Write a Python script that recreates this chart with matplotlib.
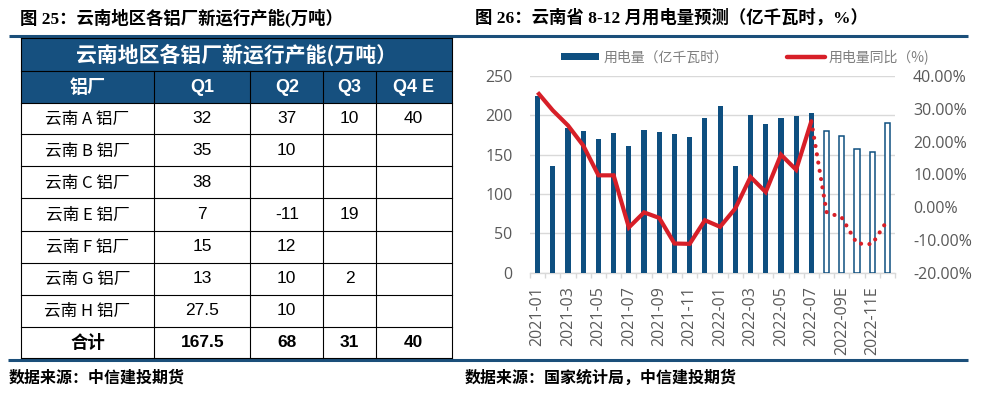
import matplotlib
matplotlib.use("Agg")
import matplotlib.pyplot as plt
from matplotlib.patches import Rectangle
from matplotlib.lines import Line2D
from matplotlib.ticker import FuncFormatter, FixedLocator
import numpy as np

plt.rcParams['font.family'] = ['Noto Sans CJK SC', 'DejaVu Sans']

# ---------------- data: table ----------------
table_title = "云南地区各铝厂新运行产能(万吨）"
col_headers = ["铝厂", "Q1", "Q2", "Q3", "Q4 E"]
plants = ["云南 A 铝厂", "云南 B 铝厂", "云南 C 铝厂", "云南 E 铝厂",
          "云南 F 铝厂", "云南 G 铝厂", "云南 H 铝厂"]
q1 = ["32", "35", "38", "7", "15", "13", "27.5"]
q2 = ["37", "10", "", "-11", "12", "10", "10"]
q3 = ["10", "", "", "19", "", "2", ""]
q4 = ["40", "", "", "", "", "", ""]
total_label = "合计"
totals = ["167.5", "68", "31", "40"]

# ---------------- data: chart ----------------
months = ["2021-01", "2021-02", "2021-03", "2021-04", "2021-05", "2021-06",
          "2021-07", "2021-08", "2021-09", "2021-10", "2021-11", "2021-12",
          "2022-01", "2022-02", "2022-03", "2022-04", "2022-05", "2022-06",
          "2022-07", "2022-08E", "2022-09E", "2022-10E", "2022-11E", "2022-12E"]
usage = [225, 136, 184, 180, 170, 178, 161, 182, 179, 176, 173, 197,
         212, 135, 200, 189, 197, 199, 203, 180, 174, 157, 154, 190]
yoy = [35.0, 29.5, 24.9, 18.8, 9.7, 9.7, -6.2, -1.6, -3.3, -11.1, -11.2, -4.0,
       -6.0, -0.4, 9.2, 4.6, 16.0, 11.4, 26.2, -1.5, -3.2, -11.1, -11.3, -4.0]
n_actual = 19  # through 2022-07

BLUE = '#0E4F80'
HDR = '#16507F'
RED = '#D71F28'
GRID = '#D9D9D9'
TXT = '#595959'

W, H = 987, 394
fig = plt.figure(figsize=(W / 100, H / 100), dpi=100)
bg = fig.add_axes([0, 0, 1, 1])
bg.set_xlim(0, W)
bg.set_ylim(H, 0)
bg.axis('off')

title_font = ['Liberation Serif', 'Noto Sans CJK SC']

# titles
bg.text(20, 18, "图 25：云南地区各铝厂新运行产能(万吨）", family=title_font,
        fontsize=12.5, fontweight='bold', ha='left', va='center', color='black')
bg.text(475, 18, "图 26：云南省 8-12 月用电量预测（亿千瓦时，%）", family=title_font,
        fontsize=12.5, fontweight='bold', ha='left', va='center', color='black')

# rules
bg.plot([9, 968], [35.8, 35.8], color='#1B4F7A', lw=2.2, solid_capstyle='butt')
bg.plot([8, 968], [360.3, 360.3], color='#1B4F7A', lw=2.2, solid_capstyle='butt')

# sources
bg.text(9, 378, "数据来源：中信建投期货", fontsize=11.5, fontweight='bold',
        ha='left', va='center', color='black')
bg.text(465, 378, "数据来源：国家统计局，中信建投期货", fontsize=11.5, fontweight='bold',
        ha='left', va='center', color='black')

# ---------------- table ----------------
col_x = [20.7, 154.3, 250.3, 323.3, 375.7, 451.7]
row_y = [38, 70.7, 102.7, 134.3, 166.3, 198.3, 230.7, 262.7, 294.7, 326.7, 358.3]

bg.add_patch(Rectangle((col_x[0], row_y[0]), col_x[-1] - col_x[0], row_y[2] - row_y[0],
                       facecolor=HDR, edgecolor='none', zorder=1))
lw_t = 0.8
for y in row_y:
    bg.plot([col_x[0], col_x[-1]], [y, y], color='black', lw=lw_t, zorder=3)
for i, xx in enumerate(col_x):
    y0 = row_y[0] if i in (0, len(col_x) - 1) else row_y[1]
    bg.plot([xx, xx], [y0, row_y[-1]], color='black', lw=lw_t, zorder=3)

def ccenter(i):
    return (col_x[i] + col_x[i + 1]) / 2

def rcenter(j):
    return (row_y[j] + row_y[j + 1]) / 2

bg.text((col_x[0] + col_x[-1]) / 2, rcenter(0) + 0.5, table_title, color='white',
        fontsize=15, fontweight='bold', ha='center', va='center', zorder=4)
for i, h in enumerate(col_headers):
    fam = ['Liberation Sans', 'Noto Sans CJK SC'] if i > 0 else ['Noto Sans CJK SC']
    bg.text(ccenter(i), rcenter(1) + 0.5, h, color='white', family=fam,
            fontsize=13, fontweight='bold', ha='center', va='center', zorder=4)

num_font = ['Liberation Sans', 'Noto Sans CJK SC']
cols = [q1, q2, q3, q4]
for r, name in enumerate(plants):
    yc = rcenter(2 + r)
    bg.text(ccenter(0), yc + 1, name, fontsize=12, ha='center', va='center',
            color='black', family=['Noto Sans CJK SC'])
    for c, colv in enumerate(cols):
        if colv[r] != "":
            bg.text(ccenter(c + 1), yc, colv[r], fontsize=12.5, ha='center', va='center',
                    color='black', family=num_font)
yc = rcenter(2 + len(plants))
bg.text(ccenter(0), yc + 1, total_label, fontsize=12.5, fontweight='bold', ha='center',
        va='center', color='black')
for c, v in enumerate(totals):
    bg.text(ccenter(c + 1), yc, v, fontsize=12.5, fontweight='bold', ha='center',
            va='center', color='black', family=num_font)

# ---------------- chart ----------------
ax_l, ax_r = 530, 895
ax_b, ax_t = 272.7, 76
ax = fig.add_axes([ax_l / W, (H - ax_b) / H, (ax_r - ax_l) / W, (ax_b - ax_t) / H])
ax.patch.set_alpha(0)
x = np.arange(len(months))
bw = 0.34
ax.bar(x[:n_actual], usage[:n_actual], width=bw, color=BLUE, zorder=3)
ax.bar(x[n_actual:], usage[n_actual:], width=bw, facecolor='white',
       edgecolor=BLUE, linewidth=1.1, zorder=3)
ax.set_xlim(-0.5, len(months) - 0.5)
ax.set_ylim(0, 250)
ax.set_yticks(np.arange(0, 251, 50))
ax.grid(axis='y', color=GRID, lw=1.0, zorder=0)
ax.set_axisbelow(True)
for s in ['top', 'left', 'right']:
    ax.spines[s].set_visible(False)
ax.spines['bottom'].set_color(GRID)
ax.spines['bottom'].set_linewidth(1.0)
ax.tick_params(axis='y', length=0, pad=12.5, labelsize=11.5, labelcolor=TXT)
for lab in ax.get_yticklabels():
    lab.set_family(['Open Sans'])
ax.set_xticks(x[::2])
ax.set_xticklabels(months[::2], rotation=90, family=['Open Sans'], fontsize=11.5, color=TXT)
ax.xaxis.set_minor_locator(FixedLocator(np.arange(-0.5, len(months), 1)))
ax.tick_params(axis='x', which='major', length=0, pad=10)
ax.tick_params(axis='x', which='minor', length=3.5, color=GRID, width=1.0)

ax2 = ax.twinx()
ax2.set_ylim(-20, 40)
ax2.set_yticks(np.arange(-20, 41, 10))
ax2.yaxis.set_major_formatter(FuncFormatter(lambda v, p: f"{v:.2f}%"))
ax2.tick_params(axis='y', length=0, pad=13, labelsize=11.5, labelcolor=TXT)
for lab in ax2.get_yticklabels():
    lab.set_family(['Open Sans'])
for s in ax2.spines.values():
    s.set_visible(False)
ax2.plot(x[:n_actual], yoy[:n_actual], color=RED, lw=3.0, solid_joinstyle='miter',
         solid_capstyle='butt', zorder=4)
ax2.plot(x[n_actual - 1:], yoy[n_actual - 1:], color=RED, lw=3.0,
         linestyle=(0, (0.01, 2.0)), dash_capstyle='round', zorder=4)

# legend
h1 = Rectangle((0, 0), 1, 1, facecolor=BLUE, edgecolor='none')
h2 = Line2D([0], [0], color=RED, lw=3.2, solid_capstyle='round')
leg = fig.legend([h1, h2], ["用电量（亿千瓦时）", "用电量同比（%)"], ncol=2,
                 loc='center left', bbox_to_anchor=(561 / W, 1 - 57 / H),
                 bbox_transform=fig.transFigure, frameon=False, fontsize=10,
                 handlelength=2.75, handleheight=0.5, handletextpad=0.3,
                 columnspacing=4.2, borderpad=0, borderaxespad=0)
for t in leg.get_texts():
    t.set_color('#7F7F7F')

fig.savefig("out.png", dpi=100)
